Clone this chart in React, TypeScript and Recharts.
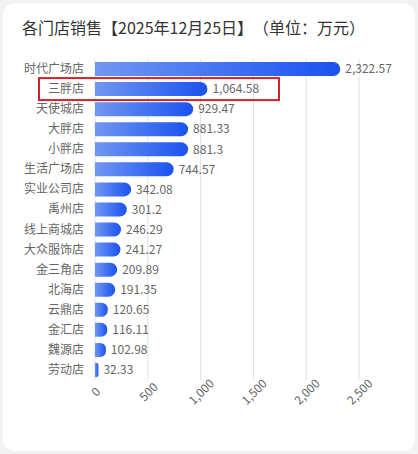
import React from 'react';
import { BarChart, Bar, XAxis, YAxis, CartesianGrid, LabelList } from 'recharts';

const stores = ['时代广场店', '三胖店', '天使城店', '大胖店', '小胖店', '生活广场店', '实业公司店', '禹州店', '线上商城店', '大众服饰店', '金三角店', '北海店', '云鼎店', '金汇店', '魏源店', '劳动店'];
const sales = [2322.57, 1064.58, 929.47, 881.33, 881.3, 744.57, 342.08, 301.2, 246.29, 241.27, 209.89, 191.35, 120.65, 116.11, 102.98, 32.33];
const xTicks = [0, 500, 1000, 1500, 2000, 2500];
const highlight = '三胖店';
const title = '各门店销售【2025年12月25日】（单位：万元）';

const data = stores.map((name, i) => ({ name, value: sales[i] }));
const FONT = '"Noto Sans CJK SC", "Noto Sans", sans-serif';
const fmt = (v: number) => v.toLocaleString('en-US', { maximumFractionDigits: 2 });

const YTick = (props: any) => {
  const { x, y, payload } = props;
  const tx = x - 3;
  return (
    <g>
      {payload.value === highlight && (
        <rect x={tx - 45} y={y - 11} width={240} height={22} fill="none" stroke="#d0212b" strokeWidth={2} />
      )}
      <text x={tx} y={y} dy={4} textAnchor="end" fill="#666" fontSize={12} fontFamily={FONT}>
        {payload.value}
      </text>
    </g>
  );
};

const XTick = (props: any) => {
  const { x, y, payload } = props;
  const cx = x + 1;
  const cy = y + 4;
  return (
    <text
      x={cx}
      y={cy}
      dy={4}
      textAnchor="middle"
      transform={`rotate(-45, ${cx}, ${cy})`}
      fill="#666"
      fontSize={12}
      fontFamily={FONT}
    >
      {fmt(payload.value)}
    </text>
  );
};

export default function App() {
  return (
    <div style={{ position: 'absolute', left: 0, top: 0, width: 418, height: 454, background: '#f2f2f2', overflow: 'hidden' }}>
      <div style={{ position: 'absolute', left: 3, top: 3, width: 412, height: 448, background: '#fff', borderRadius: 12 }} />
      <div
        style={{
          position: 'absolute',
          left: 22,
          top: 16,
          fontSize: 16,
          lineHeight: '22px',
          color: '#333',
          fontFamily: FONT,
          whiteSpace: 'nowrap',
          textSpacingTrim: 'space-all',
        } as any}
      >
        {title}
      </div>
      <div style={{ position: 'absolute', left: 0, top: 0 }}>
        <BarChart
          width={418}
          height={454}
          data={data}
          layout="vertical"
          margin={{ top: 59, right: 59, bottom: 34, left: 5 }}
          barCategoryGap={0}
        >
          <defs>
            <linearGradient id="barGrad" x1="0" y1="0" x2="1" y2="0">
              <stop offset="0%" stopColor="#7197f2" />
              <stop offset="100%" stopColor="#1a52f0" />
            </linearGradient>
          </defs>
          <CartesianGrid horizontal={false} stroke="#e0e0e0" />
          <XAxis
            type="number"
            domain={[0, 2500]}
            ticks={xTicks}
            axisLine={false}
            tickLine={false}
            height={40}
            interval={0}
            tick={<XTick />}
          />
          <YAxis
            type="category"
            dataKey="name"
            width={90}
            axisLine={false}
            tickLine={false}
            interval={0}
            tick={<YTick />}
          />
          <Bar dataKey="value" fill="url(#barGrad)" barSize={14} radius={[0, 7, 7, 0]} isAnimationActive={false}>
            <LabelList dataKey="value" position="right" offset={5} formatter={(v: any) => fmt(Number(v))} fill="#666" fontSize={12} fontFamily={FONT} />
          </Bar>
        </BarChart>
      </div>
    </div>
  );
}
